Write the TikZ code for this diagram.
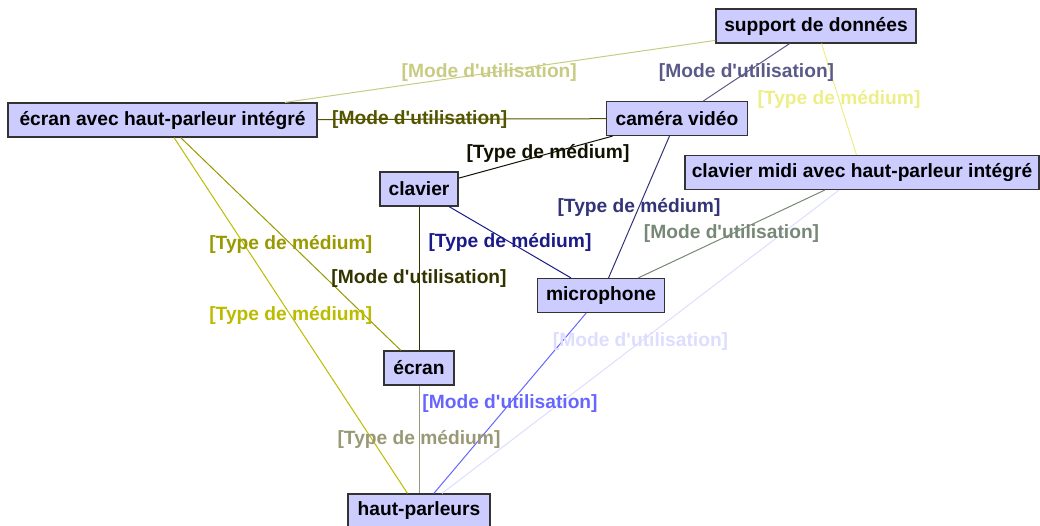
\documentclass[tikz,border=0pt]{standalone}
\usepackage{fontspec}
\setmainfont{Liberation Sans}
\usetikzlibrary{calc}
\definecolor{boxfill}{RGB}{204,204,255}
\definecolor{boxline}{RGB}{51,51,51}
\definecolor{cA}{RGB}{200,204,130}
\definecolor{cB}{RGB}{85,85,0}
\definecolor{cC}{RGB}{90,90,136}
\definecolor{cD}{RGB}{238,238,136}
\definecolor{cE}{RGB}{17,17,0}
\definecolor{cF}{RGB}{51,51,119}
\definecolor{cG}{RGB}{26,26,136}
\definecolor{cH}{RGB}{119,136,119}
\definecolor{cI}{RGB}{51,51,0}
\definecolor{cJ}{RGB}{153,153,0}
\definecolor{cK}{RGB}{187,187,0}
\definecolor{cL}{RGB}{102,102,255}
\definecolor{cM}{RGB}{221,221,255}
\definecolor{cN}{RGB}{153,153,119}
\newcommand{\modu}{[Mode d\textquotesingle utilisation]}
\newcommand{\typm}{[Type de médium]}
\begin{document}
\begin{tikzpicture}[x=1pt,y=-1pt,
  box/.style={draw=boxline, line width=1.2pt, fill=boxfill, inner sep=0pt,
    minimum height=34pt, font=\fontsize{19.2}{22}\selectfont\bfseries, text=black},
  lbl/.style={inner sep=0pt, font=\fontsize{19.2}{22}\selectfont\bfseries},
  edge/.style={line width=1pt}]
\useasboundingbox (0,0) rectangle (1040,526);
% nodes
\node[box, minimum width=200pt] (sup) at (816,26) {support de données};
\node[box, minimum width=309pt] (ehp) at (162.5,120) {écran avec haut-parleur intégré};
\node[box, minimum width=141pt] (cam) at (677,118.5) {caméra vidéo};
\node[box, minimum width=78pt] (clav) at (419,189) {clavier};
\node[box, minimum width=354pt] (midi) at (862,172.5) {clavier midi avec haut-parleur intégré};
\node[box, minimum width=127pt] (mic) at (601,295.5) {microphone};
\node[box, minimum width=70pt] (ecr) at (419,368) {écran};
\node[box, minimum width=142pt] (hp) at (419,511) {haut-parleurs};
% edges
\draw[edge, cA] (sup) -- (ehp);
\draw[edge, cB] (ehp) -- (cam);
\draw[edge, cC] (sup) -- (cam);
\draw[edge, cD] (sup) -- (midi);
\draw[edge, cE] (cam) -- (clav);
\draw[edge, cF] (cam) -- (mic);
\draw[edge, cG] (clav) -- (mic);
\draw[edge, cH] (midi) -- (mic);
\draw[edge, cI] (clav) -- (ecr);
\draw[edge, cJ] (ehp) -- (ecr);
\draw[edge, cK] (ehp) -- (hp);
\draw[edge, cL] (mic) -- (hp);
\draw[edge, cM] (midi) -- (hp);
\draw[edge, cN] (ecr) -- (hp);
% labels
\node[lbl, text=cA] (l1) at ($(sup)!.5!(ehp)$) {\modu};
\node[lbl, text=cB] (l2) at ($(ehp)!.5!(cam)$) {\modu};
\node[lbl, text=cC] (l3) at ($(sup)!.5!(cam)$) {\modu};
\node[lbl, text=cD] (l4) at ($(sup)!.5!(midi)$) {\typm};
\node[lbl, text=cE] (l5) at ($(cam)!.5!(clav)$) {\typm};
\node[lbl, text=cF] (l6) at ($(cam)!.5!(mic)$) {\typm};
\node[lbl, text=cG] (l7) at ($(clav)!.5!(mic)$) {\typm};
\node[lbl, text=cH] (l8) at ($(midi)!.5!(mic)$) {\modu};
\node[lbl, text=cI] (l9) at ($(clav)!.5!(ecr)$) {\modu};
\node[lbl, text=cJ] (l10) at ($(ehp)!.5!(ecr)$) {\typm};
\node[lbl, text=cK] (l11) at ($(ehp)!.5!(hp)$) {\typm};
\node[lbl, text=cL] (l12) at ($(mic)!.5!(hp)$) {\modu};
\node[lbl, text=cM] (l13) at ($(midi)!.5!(hp)$) {\modu};
\node[lbl, text=cN] (l14) at ($(ecr)!.5!(hp)$) {\typm};
\end{tikzpicture}
\end{document}
